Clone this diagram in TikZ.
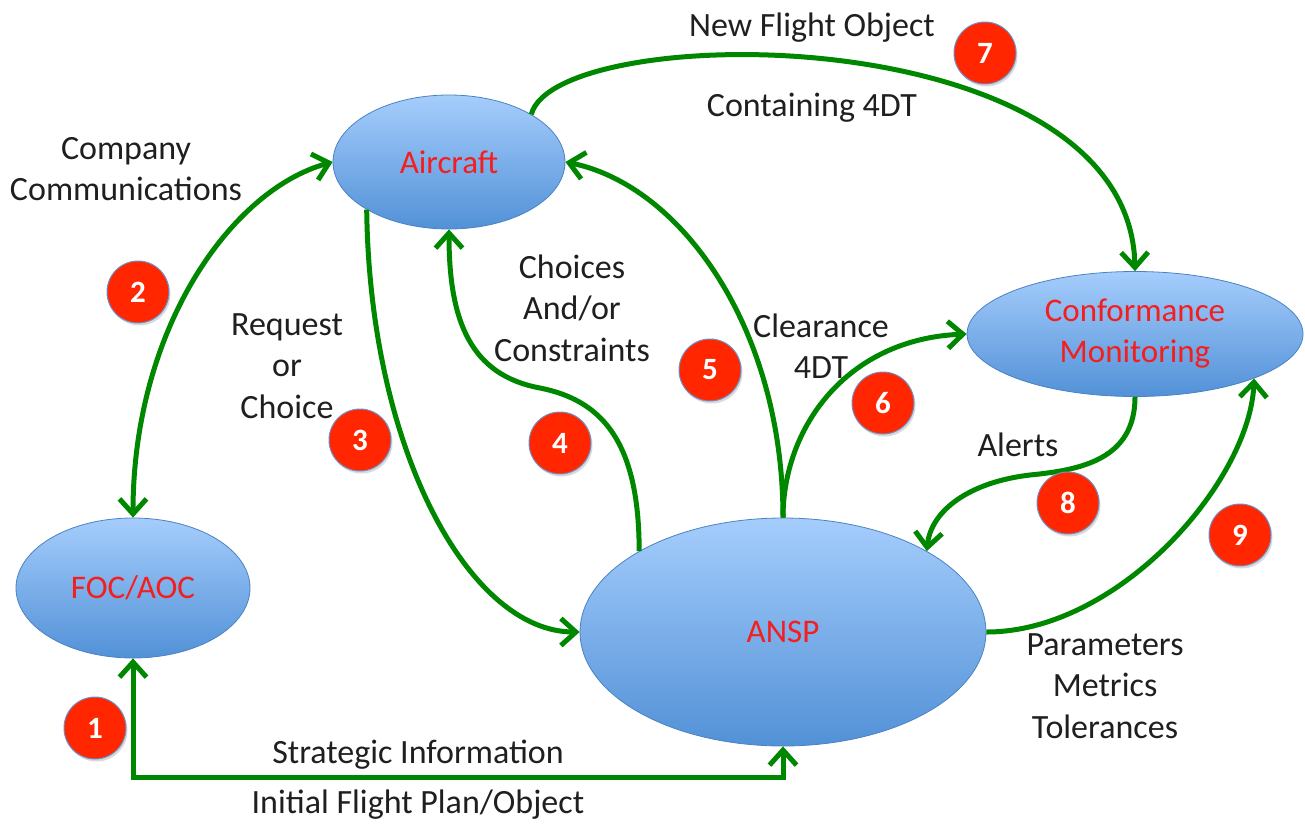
\documentclass[tikz,border=0pt]{standalone}
\usepackage{fontspec}
\setmainfont{Carlito}
\usetikzlibrary{arrows.meta,shapes.geometric,shadows}
\definecolor{lg}{RGB}{0,135,0}
\definecolor{topb}{RGB}{165,205,252}
\definecolor{botb}{RGB}{82,145,215}
\definecolor{edgeb}{RGB}{75,130,195}
\definecolor{redtxt}{RGB}{245,30,30}
\definecolor{badgefill}{RGB}{255,38,0}
\definecolor{badgeedge}{RGB}{110,145,200}
\begin{document}
\begin{tikzpicture}[x=1pt,y=-1pt,
  >={Straight Barb[length=15pt,width=27pt]},
  conn/.style={draw=lg,line width=5pt},
  ell/.style={ellipse,draw=edgeb,line width=0.8pt,top color=topb,bottom color=botb,
    inner sep=0pt,text=redtxt,font=\fontsize{33}{41}\selectfont,align=center},
  badge/.style={circle,fill=badgefill,draw=badgeedge,line width=1pt,minimum size=62pt,
    inner sep=0pt,text=white,font=\fontsize{31}{33}\selectfont\bfseries,
    drop shadow={opacity=0.3,shadow xshift=1.5pt,shadow yshift=-2.5pt}},
  lbl/.style={align=center,font=\fontsize{34}{41.5}\selectfont,text=black!88,inner sep=0pt}]
\useasboundingbox (0,0) rectangle (1305,827);

% ellipses
\node[ell,minimum width=232pt,minimum height=134pt] (air) at (449,162) {Aircraft};
\node[ell,minimum width=234pt,minimum height=140pt] (foc) at (133,588) {FOC/AOC};
\node[ell,minimum width=336pt,minimum height=125pt] (conf) at (1135,334) {Conformance\\Monitoring};
\node[ell,minimum width=406pt,minimum height=228pt] (ansp) at (783,632) {ANSP};

% helper coordinates
\coordinate (base) at (0,777);
\coordinate (w4) at (540,388);
\coordinate (w8) at (1030,475);

% connectors
\draw[conn,<->] (foc.south) -- (foc.south |- base) -| (ansp.south);
\draw[conn,<->] (foc.north) .. controls +(0,-188) and +(-102,28) .. (air.west);
\draw[conn,->] (air.south west) .. controls +(3,241) and +(-110,0) .. (ansp.west);
\draw[conn,->] (ansp.north west) .. controls +(0,-112) and +(60,12) .. (w4)
   .. controls +(-70,-13) and +(0,91) .. (air.south);
\draw[conn,->] (ansp.north) .. controls +(0,-190) and +(115,23) .. (air.east);
\draw[conn,->] (ansp.north) .. controls +(0,-90) and +(-120,5) .. (conf.west);
\draw[conn,->] (air.north east) .. controls +(25,-95) and +(-5,-255) .. (conf.north);
\draw[conn,->] (conf.south) .. controls +(0,63) and +(50,-5) .. (w8)
   .. controls +(-60,7) and +(4,-41) .. (ansp.north east);
\draw[conn,->] (ansp.east) .. controls +(133,0) and +(-4,102) .. (conf.south east);

% labels
\node[lbl] (lcc) at (126,169) {Company\\Communications};
\node[lbl] (lnfo) at (812,28) {New Flight Object};
\node[lbl] (lc4) at (812,108) {Containing 4DT};
\node[lbl] (lrc) at (287,366) {Request\\or\\Choice};
\node[lbl] (lch) at (572,308) {Choices\\And/or\\Constraints};
\node[lbl] (lcl) at (821,346) {Clearance\\4DT};
\node[lbl] (lal) at (1018,445) {Alerts};
\node[lbl] (lpm) at (1105,686) {Parameters\\Metrics\\Tolerances};
\node[lbl] (lsi) at (418,755) {Strategic Information};
\node[lbl] (lif) at (418,805) {Initial Flight Plan/Object};

% badges
\node[badge] (b1) at (95,728) {1};
\node[badge] (b2) at (138,292) {2};
\node[badge] (b3) at (360,440) {3};
\node[badge] (b4) at (560,443) {4};
\node[badge] (b5) at (710,370) {5};
\node[badge] (b6) at (883,403) {6};
\node[badge] (b7) at (985,53) {7};
\node[badge] (b8) at (1068,503) {8};
\node[badge] (b9) at (1240,535) {9};
\end{tikzpicture}
\end{document}
